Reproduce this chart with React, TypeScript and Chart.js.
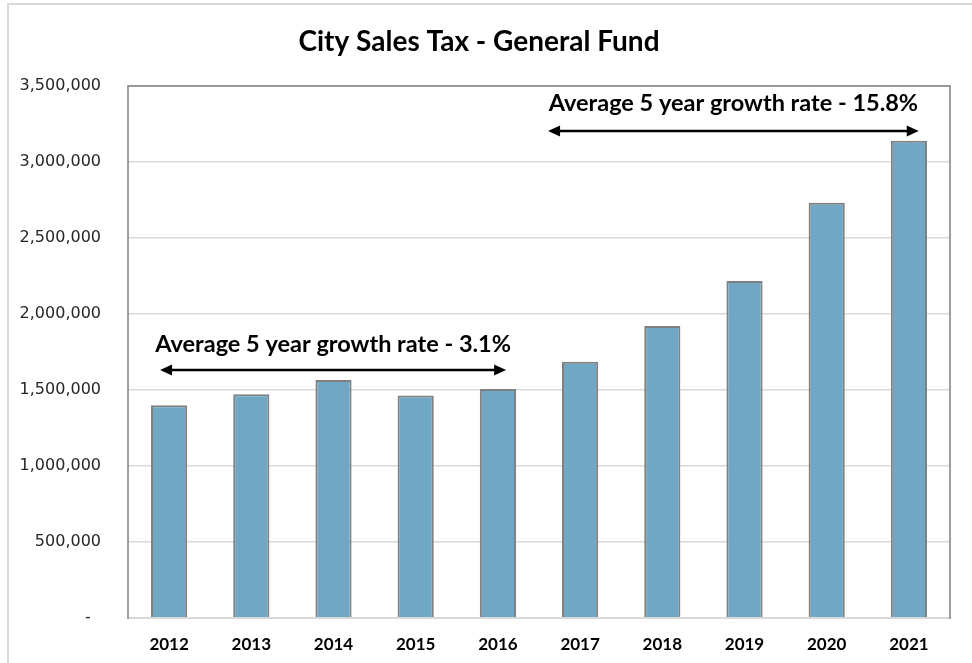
import React, { useEffect, useRef } from "react";
import { Chart, registerables } from "chart.js";

Chart.register(...registerables);

const years = ["2012", "2013", "2014", "2015", "2016", "2017", "2018", "2019", "2020", "2021"];
const salesTax = [1399000, 1472000, 1566000, 1463000, 1507000, 1686000, 1921000, 2217000, 2732000, 3140000];
const yTicks = [0, 500000, 1000000, 1500000, 2000000, 2500000, 3000000, 3500000];

const noteTexts = ["Average 5 year growth rate - 3.1%", "Average 5 year growth rate - 15.8%"];
const noteFrom = [-0.11, 4.61];
const noteTo = [4.1, 9.12];
const noteArrowY = [1632000, 3204000];
const noteTextY = [1803000, 3388000];

const framePlugin = {
  id: "frame",
  beforeDraw(chart: any) {
    const ctx = chart.ctx;
    ctx.save();
    ctx.fillStyle = "#ffffff";
    ctx.fillRect(0, 0, chart.width, chart.height);
    ctx.strokeStyle = "#d9d9d9";
    ctx.lineWidth = 2;
    ctx.beginPath();
    ctx.moveTo(8, chart.height);
    ctx.lineTo(8, 4);
    ctx.lineTo(chart.width, 4);
    ctx.stroke();
    ctx.restore();
  },
  afterDatasetsDraw(chart: any) {
    const ctx = chart.ctx;
    const a = chart.chartArea;
    ctx.save();
    ctx.strokeStyle = "#d9d9d9";
    ctx.lineWidth = 2;
    ctx.beginPath();
    ctx.moveTo(a.left, a.bottom);
    ctx.lineTo(a.right, a.bottom);
    ctx.stroke();
    ctx.strokeStyle = "#808080";
    ctx.lineWidth = 1.5;
    ctx.beginPath();
    ctx.moveTo(a.left, a.bottom + 1);
    ctx.lineTo(a.left, a.top);
    ctx.lineTo(a.right, a.top);
    ctx.lineTo(a.right, a.bottom + 1);
    ctx.stroke();

    const xs = chart.scales.x;
    const ys = chart.scales.y;
    for (let i = 0; i < noteTexts.length; i++) {
      const x1 = xs.getPixelForValue(noteFrom[i]);
      const x2 = xs.getPixelForValue(noteTo[i]);
      const y = ys.getPixelForValue(noteArrowY[i]);
      const head = 12;
      const hh = 5.5;
      ctx.strokeStyle = "#000";
      ctx.fillStyle = "#000";
      ctx.lineWidth = 2.5;
      ctx.beginPath();
      ctx.moveTo(x1 + head - 2, y);
      ctx.lineTo(x2 - head + 2, y);
      ctx.stroke();
      ctx.beginPath();
      ctx.moveTo(x1, y);
      ctx.lineTo(x1 + head, y - hh);
      ctx.lineTo(x1 + head, y + hh);
      ctx.closePath();
      ctx.fill();
      ctx.beginPath();
      ctx.moveTo(x2, y);
      ctx.lineTo(x2 - head, y - hh);
      ctx.lineTo(x2 - head, y + hh);
      ctx.closePath();
      ctx.fill();

      ctx.font = "bold 23.5px Lato";
      ctx.textAlign = "center";
      ctx.textBaseline = "middle";
      ctx.fillText(noteTexts[i], (x1 + x2) / 2, ys.getPixelForValue(noteTextY[i]));
    }
    ctx.restore();
  },
};

export default function App() {
  const ref = useRef<HTMLCanvasElement | null>(null);
  useEffect(() => {
    document.body.style.margin = "0";
    const canvas = ref.current;
    if (!canvas) return;
    const chart = new Chart(canvas, {
      type: "bar",
      data: {
        labels: years,
        datasets: [
          {
            label: "City Sales Tax",
            data: salesTax,
            backgroundColor: "#6FA7C4",
            borderColor: "#808080",
            borderWidth: 2,
            barPercentage: 0.44,
            categoryPercentage: 1,
          },
        ],
      },
      options: {
        animation: false,
        responsive: false,
        devicePixelRatio: 1,
        layout: { padding: { left: 8, right: 22, top: 0, bottom: 0 } },
        plugins: {
          legend: { display: false },
          tooltip: { enabled: false },
          title: {
            display: true,
            text: "City Sales Tax - General Fund",
            color: "#000",
            font: { family: "Lato", size: 28, weight: "bold" },
            padding: { top: 25.2, bottom: 27.2 },
          },
        },
        scales: {
          x: {
            grid: { display: false, drawTicks: false },
            border: { display: false },
            ticks: {
              color: "#000",
              font: { family: "Lato", size: 17, weight: "bold" },
              padding: 16,
              maxRotation: 0,
            },
            afterFit: (s: any) => {
              s.height = 45;
            },
          },
          y: {
            min: 0,
            max: 3500000,
            afterBuildTicks: (s: any) => {
              s.ticks = yTicks.map((v) => ({ value: v }));
            },
            grid: { color: "#d9d9d9", lineWidth: 1.5, drawTicks: false },
            border: { display: false },
            ticks: {
              color: "#262626",
              font: { family: "DejaVu Sans", size: 16 },
              padding: 27,
              callback: (v: any) => (Number(v) === 0 ? "-  " : Number(v).toLocaleString("en-US")),
            },
            afterFit: (s: any) => {
              s.width = 120;
            },
          },
        },
      },
      plugins: [framePlugin],
    } as any);
    return () => chart.destroy();
  }, []);
  return (
    <div style={{ width: 972, height: 663 }}>
      <canvas ref={ref} width={972} height={663} style={{ display: "block" }} />
    </div>
  );
}
